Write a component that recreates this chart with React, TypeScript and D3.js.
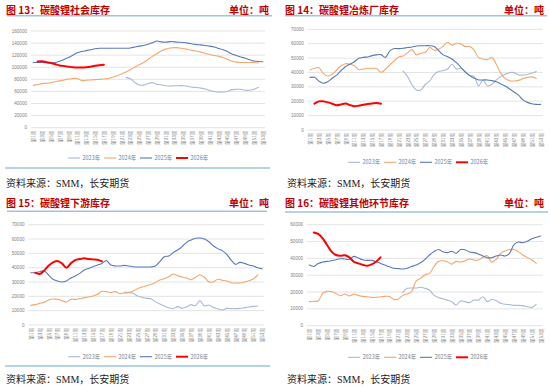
import { useEffect, useRef } from 'react';
import * as d3 from 'd3';

// week categories shared by all four charts
const weeks = [
  '第1周', '第2周', '第3周', '第4周', '第5周', '第6周', '第7周', '第8周', '第9周', '第10周',
  '第11周', '第12周', '第13周', '第14周', '第15周', '第16周', '第17周', '第18周', '第19周', '第20周',
  '第21周', '第22周', '第23周', '第24周', '第25周', '第26周', '第27周', '第28周', '第29周', '第30周',
  '第31周', '第32周', '第33周', '第34周', '第35周', '第36周', '第37周', '第38周', '第39周', '第40周',
  '第41周', '第42周', '第43周', '第44周', '第45周', '第46周', '第47周', '第48周', '第49周', '第50周',
  '第51周', '第52周', '第53周',
];
const years = ['2023年', '2024年', '2025年', '2026年'];
// first week with data, per year
const startWeeks = [22, 1, 1, 2];

// 图13 社会库存
const social2023 = [83300, 81000, 75000, 70500, 70500, 73000, 74500, 72000, 71000, 69500, 69000, 69500, 69500, 69500, 68500, 67000, 66500, 65500, 64000, 61500, 60000, 59000, 59000, 60000, 63000, 63500, 63500, 62000, 62000, 63500, 67000];
const social2024 = [70000, 71500, 73000, 73500, 74500, 76000, 77500, 79000, 80500, 81500, 81500, 78000, 78500, 79000, 79500, 80000, 80500, 81500, 83500, 86000, 89000, 92000, 96000, 100000, 104000, 108000, 113000, 118000, 122500, 127000, 130000, 132000, 132500, 132000, 131000, 129500, 128000, 126500, 125000, 123000, 121000, 119500, 118000, 116000, 113000, 110000, 108500, 108000, 108000, 108000, 108000, 107000];
const social2025 = [108000, 108000, 108000, 107500, 107000, 108000, 110000, 113000, 116000, 120000, 124000, 126000, 127500, 129000, 130500, 131500, 131500, 131500, 131500, 131500, 131500, 131500, 132000, 133500, 135000, 136000, 138000, 140500, 143500, 142000, 141500, 142500, 142000, 141500, 141000, 140000, 138500, 137500, 137000, 136000, 135000, 133500, 131000, 129000, 126000, 122000, 119500, 117000, 115000, 112500, 110500, 109500, 109000];
const social2026 = [109500, 110000, 108500, 107000, 105000, 103000, 102000, 101000, 100000, 99500, 99500, 100000, 101000, 102500, 103500, 104000];

// 图14 冶炼厂库存
const smelter2023 = [41000, 37100, 31300, 27800, 27800, 31800, 34100, 38700, 40600, 41300, 42400, 45700, 42400, 42900, 40600, 37800, 37300, 30600, 34800, 30600, 31800, 34800, 37100, 38700, 39900, 39900, 38200, 38200, 38700, 39400, 40600];
const smelter2024 = [41700, 42900, 43300, 39400, 37500, 38700, 41700, 44700, 46100, 45700, 44700, 42000, 42400, 42900, 42900, 42700, 40100, 42200, 45200, 48000, 50800, 51500, 53800, 55900, 52200, 53300, 54000, 57300, 55400, 56100, 58200, 61000, 58900, 60300, 59800, 58000, 58000, 55600, 50300, 49400, 48900, 50300, 45700, 39400, 35900, 34300, 34100, 34500, 35700, 36600, 36900, 35900];
const smelter2025 = [36600, 36600, 34000, 32500, 33600, 36000, 38200, 41300, 44000, 45700, 47500, 49800, 50500, 50800, 51700, 52200, 52400, 50500, 55000, 56600, 56600, 56800, 57300, 57700, 58400, 58600, 58600, 58600, 58000, 55200, 52200, 51000, 49400, 46800, 43600, 40300, 37800, 36000, 34800, 34800, 34800, 34300, 33600, 32000, 30600, 28500, 26400, 24300, 20900, 19200, 18300, 17800, 17800];
const smelter2026 = [18300, 19900, 19900, 19200, 18300, 17200, 17800, 18500, 17400, 16500, 16900, 17600, 18100, 18500, 18800, 18300];

// 图15 下游库存
const downstream2023 = [22800, 22800, 22100, 20200, 19300, 18600, 18400, 16300, 14700, 13300, 12100, 11400, 12800, 11600, 12600, 14200, 13500, 17000, 13300, 14000, 12300, 11400, 10500, 11600, 11400, 11400, 11600, 12100, 12600, 13000, 13300];
const downstream2024 = [13700, 14200, 15100, 15800, 17400, 18100, 17900, 17000, 16000, 17900, 17900, 18400, 19100, 19500, 20200, 21400, 23500, 23300, 22600, 23300, 21900, 22300, 22600, 23700, 25300, 26500, 27400, 28400, 29500, 31400, 32300, 33700, 35600, 34400, 33500, 32800, 31600, 33300, 34900, 33300, 30200, 30000, 31900, 31200, 30700, 29500, 29300, 29300, 30000, 30900, 32300, 34900];
const downstream2025 = [36500, 36500, 37200, 37900, 34900, 31900, 30700, 30000, 30700, 32800, 34200, 36000, 38400, 39500, 40700, 41900, 43000, 44900, 41900, 41200, 41200, 41600, 41200, 40700, 40500, 40500, 40500, 40500, 41200, 44200, 47700, 48100, 50500, 52300, 54700, 57700, 59300, 60500, 60700, 60000, 58100, 55300, 53300, 51900, 49300, 45300, 42300, 43700, 43000, 41900, 41200, 40000, 39100];
const downstream2026 = [36500, 35600, 37900, 41400, 43700, 44700, 43000, 40000, 43000, 45300, 46000, 46500, 46000, 45800, 45600, 44400];

// 图16 其他环节库存
const other2023 = [19800, 22200, 22400, 22400, 22800, 22200, 21200, 18200, 16800, 16000, 15200, 14300, 12300, 14700, 14300, 13700, 15200, 15200, 17200, 14300, 15600, 14900, 13300, 12700, 12500, 12100, 12100, 11900, 11300, 10900, 12700];
const other2024 = [14300, 14500, 14700, 19200, 20400, 20200, 19200, 17800, 18800, 17600, 18800, 18000, 17400, 17200, 16800, 16800, 17200, 17400, 17400, 15600, 15800, 18000, 18800, 20400, 26500, 28100, 30300, 31100, 35000, 38200, 38600, 38000, 36600, 38200, 37800, 38600, 39600, 39000, 39000, 40600, 41600, 37800, 39400, 43000, 44400, 45300, 45300, 44000, 42000, 40600, 39000, 37000];
const other2025 = [36000, 35200, 37000, 37800, 38200, 38600, 39200, 39800, 39600, 39400, 41200, 40200, 39200, 38800, 38800, 38000, 37000, 36000, 35000, 34100, 33900, 33700, 34100, 35200, 36000, 37400, 39400, 42000, 44000, 45300, 44000, 43400, 44200, 43000, 45300, 45100, 43800, 43400, 42600, 41400, 40400, 40400, 41400, 42000, 41400, 43000, 48100, 49700, 49300, 50100, 51700, 52500, 53300];
const other2026 = [55400, 54500, 51900, 47900, 44000, 42000, 41600, 41800, 40600, 38000, 37000, 36200, 35600, 36400, 38000, 40600];

const colors = ['#a9b9d8', '#f5a66c', '#5878bb', '#ff0000'];
const titleRed = '#c00000';
const ruleBlue = '#9dc3e6';

const panels = [
  { title: '图 13：碳酸锂社会库存', ox: 0, oy: 0, series: [social2023, social2024, social2025, social2026], yMax: 160000, yStep: 20000, x0: 31, x1: 265, yTop: 31, yBottom: 127.7, legendX: 68, legendY: 158, titleX: 6, titleY: 9, ruleY: 15.7, ruleX: [7, 272], bottomRule: 168, sourceY: 183, sourceX: 6 },
  { title: '图 14：碳酸锂冶炼厂库存', ox: 275, oy: 0, series: [smelter2023, smelter2024, smelter2025, smelter2026], yMax: 70000, yStep: 10000, x0: 32.8, x1: 267.9, yTop: 29.3, yBottom: 130, legendX: 73, legendY: 162.3, titleX: 10, titleY: 9, ruleY: 15.7, ruleX: [10, 272], bottomRule: null, sourceY: 183, sourceX: 12 },
  { title: '图 15：碳酸锂下游库存', ox: 0, oy: 194, series: [downstream2023, downstream2024, downstream2025, downstream2026], yMax: 70000, yStep: 10000, x0: 28.5, x1: 264.5, yTop: 30.7, yBottom: 131, legendX: 68, legendY: 162.7, titleX: 6, titleY: 8.5, ruleY: 17.3, ruleX: [7, 267], bottomRule: 172, sourceY: 185, sourceX: 6 },
  { title: '图 16：碳酸锂其他环节库存', ox: 275, oy: 194, series: [other2023, other2024, other2025, other2026], yMax: 60000, yStep: 10000, x0: 32.1, x1: 267.9, yTop: 30.7, yBottom: 131.7, legendX: 73, legendY: 163.3, titleX: 10, titleY: 8.5, ruleY: 18, ruleX: [10, 273], bottomRule: null, sourceY: 185, sourceX: 12 },
];

const cjk = '"Noto Sans CJK SC", "Noto Sans", sans-serif';

const App = () => {
  const ref = useRef<SVGSVGElement>(null);

  useEffect(() => {
    const svg = d3.select(ref.current);
    svg.selectAll('*').remove();

    svg.append('rect').attr('width', 550).attr('height', 389).attr('fill', '#fff');

    panels.forEach((p) => {
      const g = svg.append('g').attr('transform', `translate(${p.ox},${p.oy})`);

      // header
      g.append('text')
        .attr('x', p.titleX)
        .attr('y', p.titleY)
        .attr('dominant-baseline', 'central')
        .attr('font-family', cjk)
        .attr('font-weight', 'bold')
        .attr('font-size', 10)
        .attr('fill', titleRed)
        .text(p.title);
      g.append('text')
        .attr('x', 269)
        .attr('y', p.titleY)
        .attr('text-anchor', 'end')
        .attr('dominant-baseline', 'central')
        .attr('font-family', cjk)
        .attr('font-weight', 'bold')
        .attr('font-size', 10)
        .attr('fill', titleRed)
        .text('单位：吨');
      g.append('line')
        .attr('x1', p.ruleX[0]).attr('x2', p.ruleX[1])
        .attr('y1', p.ruleY).attr('y2', p.ruleY)
        .attr('stroke', ruleBlue).attr('stroke-width', 1.5);
      if (p.bottomRule !== null) {
        g.append('line')
          .attr('x1', 5).attr('x2', 270)
          .attr('y1', p.bottomRule).attr('y2', p.bottomRule)
          .attr('stroke', ruleBlue).attr('stroke-width', 1.5);
      }

      const x = d3.scaleBand().domain(weeks).range([p.x0, p.x1]);
      const y = d3.scaleLinear().domain([0, p.yMax]).range([p.yBottom, p.yTop]);
      const xc = (w: string) => (x(w) ?? 0) + x.bandwidth() / 2;

      // gridlines + y labels
      const yTicks = d3.range(0, p.yMax + 1, p.yStep);
      g.selectAll('line.grid')
        .data(yTicks)
        .enter()
        .append('line')
        .attr('class', 'grid')
        .attr('x1', p.x0).attr('x2', p.x1)
        .attr('y1', (d) => y(d)).attr('y2', (d) => y(d))
        .attr('stroke', '#d9d9d9').attr('stroke-width', 0.7);
      g.selectAll('text.ytick')
        .data(yTicks)
        .enter()
        .append('text')
        .attr('class', 'ytick')
        .attr('x', p.x0 - 4)
        .attr('y', (d) => y(d))
        .attr('text-anchor', 'end')
        .attr('dominant-baseline', 'central')
        .attr('font-family', 'Arial, "Liberation Sans", sans-serif')
        .attr('font-size', 4.6)
        .attr('fill', '#808080')
        .text((d) => String(d));

      // x labels, every other week
      g.selectAll('text.xtick')
        .data(weeks.filter((_, i) => i % 2 === 0))
        .enter()
        .append('text')
        .attr('class', 'xtick')
        .attr('transform', (d) => `translate(${xc(d)},${p.yBottom + 3}) rotate(-90)`)
        .attr('text-anchor', 'end')
        .attr('dominant-baseline', 'central')
        .attr('font-family', cjk)
        .attr('font-size', 4.6)
        .attr('fill', '#808080')
        .text((d) => d);

      // series
      p.series.forEach((vals, k) => {
        const start = startWeeks[k] - 1;
        const line = d3.line<number>()
          .x((_, i) => xc(weeks[start + i]))
          .y((d) => y(d))
          .curve(d3.curveCatmullRom.alpha(0.5));
        g.append('path')
          .attr('d', line(vals))
          .attr('fill', 'none')
          .attr('stroke', colors[k])
          .attr('stroke-width', k === 3 ? 2 : 1.1)
          .attr('stroke-linejoin', 'round')
          .attr('stroke-linecap', 'round');
      });

      // legend
      years.forEach((yr, k) => {
        const lx = p.legendX + k * 36;
        g.append('line')
          .attr('x1', lx).attr('x2', lx + 12)
          .attr('y1', p.legendY).attr('y2', p.legendY)
          .attr('stroke', colors[k])
          .attr('stroke-width', k === 3 ? 2 : 1.1);
        g.append('text')
          .attr('x', lx + 14.5)
          .attr('y', p.legendY)
          .attr('dominant-baseline', 'central')
          .attr('font-family', cjk)
          .attr('font-size', 5.5)
          .attr('fill', '#7f7f7f')
          .text(yr);
      });

      // source
      g.append('text')
        .attr('x', p.sourceX)
        .attr('y', p.sourceY)
        .attr('dominant-baseline', 'central')
        .attr('font-family', '"Liberation Serif", "Noto Sans CJK SC", serif')
        .attr('font-size', 10)
        .attr('fill', '#222')
        .text('资料来源：SMM，长安期货');
    });
  }, []);

  return (
    <div style={{ position: 'absolute', left: 0, top: 0 }}>
      <svg ref={ref} width={550} height={389} style={{ display: 'block' }}></svg>
    </div>
  );
};

export default App;
